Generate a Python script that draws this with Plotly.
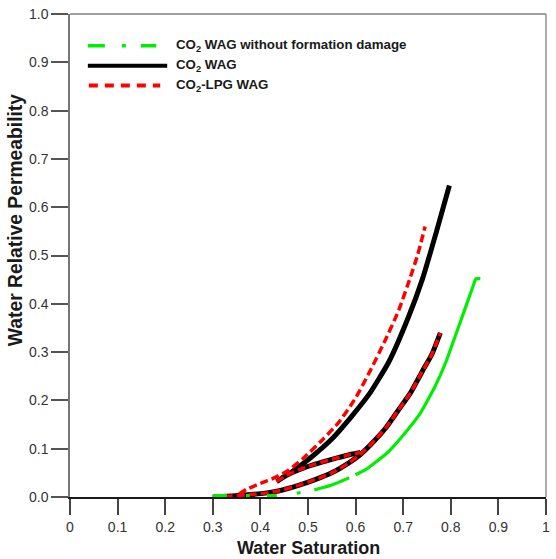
import plotly.graph_objects as go

# ---------------- data ----------------
# CO2 WAG / CO2-LPG WAG shared lower branch
sw_lower = [0.30, 0.34, 0.38, 0.41, 0.44, 0.48, 0.515, 0.55, 0.585, 0.61, 0.64, 0.665, 0.69, 0.715, 0.74, 0.76, 0.778]
kr_lower = [0.000, 0.002, 0.005, 0.008, 0.013, 0.024, 0.036, 0.050, 0.070, 0.088, 0.117, 0.145, 0.180, 0.215, 0.260, 0.295, 0.340]

# shared middle (return) branch
sw_mid = [0.434, 0.455, 0.48, 0.515, 0.55, 0.585, 0.61]
kr_mid = [0.032, 0.045, 0.056, 0.068, 0.078, 0.087, 0.092]

# CO2 WAG upper branch
sw_upper_co2 = [0.434, 0.47, 0.51, 0.55, 0.59, 0.63, 0.67, 0.71, 0.74, 0.77, 0.797]
kr_upper_co2 = [0.032, 0.055, 0.085, 0.120, 0.165, 0.215, 0.280, 0.370, 0.450, 0.550, 0.645]

# CO2-LPG WAG upper branch
sw_upper_lpg = [0.355, 0.371, 0.40, 0.43, 0.46, 0.49, 0.53, 0.565, 0.60, 0.63, 0.66, 0.69, 0.715, 0.73, 0.746]
kr_upper_lpg = [0.006, 0.016, 0.028, 0.040, 0.056, 0.080, 0.118, 0.155, 0.205, 0.260, 0.320, 0.385, 0.455, 0.500, 0.560]

# CO2 WAG without formation damage
sw_nodmg = [0.30, 0.33, 0.37, 0.43, 0.477, 0.51, 0.55, 0.58, 0.62, 0.665, 0.70, 0.735, 0.765, 0.79, 0.81, 0.83, 0.848, 0.853, 0.862]
kr_nodmg = [0.003, 0.003, 0.003, 0.003, 0.008, 0.014, 0.025, 0.037, 0.056, 0.090, 0.128, 0.172, 0.225, 0.280, 0.335, 0.390, 0.440, 0.452, 0.452]

x_ticks = [0, 0.1, 0.2, 0.3, 0.4, 0.5, 0.6, 0.7, 0.8, 0.9, 1]
x_tick_text = ["0", "0.1", "0.2", "0.3", "0.4", "0.5", "0.6", "0.7", "0.8", "0.9", "1"]
y_ticks = [0, 0.1, 0.2, 0.3, 0.4, 0.5, 0.6, 0.7, 0.8, 0.9, 1.0]
y_tick_text = ["0.0", "0.1", "0.2", "0.3", "0.4", "0.5", "0.6", "0.7", "0.8", "0.9", "1.0"]

legend_names = ["CO<sub>2</sub> WAG without formation damage", "CO<sub>2</sub> WAG", "CO<sub>2</sub>-LPG WAG"]

# ---------------- figure ----------------
W, H = 556, 559
PLOT_L, PLOT_R, PLOT_T, PLOT_B = 70, 550, 11, 497          # screen pixels
ML, MR, MT, MB = PLOT_L, W - PLOT_R, PLOT_T, H - PLOT_B
PW, PH = PLOT_R - PLOT_L, PLOT_B - PLOT_T


def px_x(p):
    return (p - PLOT_L) / PW


def px_y(p):
    return (PLOT_B - p) / PH


FONT = "Liberation Sans, Arial, sans-serif"

fig = go.Figure()

black_x = sw_lower + [None] + sw_mid[::-1] + sw_upper_co2
black_y = kr_lower + [None] + kr_mid[::-1] + kr_upper_co2
fig.add_trace(go.Scatter(x=black_x, y=black_y, mode="lines", name="CO2 WAG",
                         line=dict(color="#000000", width=5, shape="spline", smoothing=0.5),
                         showlegend=False))

red_x = sw_lower + [None] + sw_mid + [None] + sw_upper_lpg
red_y = kr_lower + [None] + kr_mid + [None] + kr_upper_lpg
fig.add_trace(go.Scatter(x=red_x, y=red_y, mode="lines", name="CO2-LPG WAG",
                         line=dict(color="#ff0000", width=3.5, dash="8px,4px", shape="spline", smoothing=0.5),
                         showlegend=False))

fig.add_trace(go.Scatter(x=sw_nodmg, y=kr_nodmg, mode="lines", name="CO2 WAG without formation damage",
                         line=dict(color="#00ee00", width=3.2,
                                   dash="14px,19px,4px,17px,10px,20px,4px,14px,37px,7px,900px",
                                   shape="spline", smoothing=0.4),
                         showlegend=False))

# custom legend (long line samples as in the reference)
rows = [43, 63, 83]
samples = [
    dict(color="#00ee00", width=3.5, dash="17px,17px,4px,15px,17px,40px", x0=88, x1=157),
    dict(color="#000000", width=4, dash="solid", x0=88, x1=168),
    dict(color="#ff0000", width=4, dash="9px,7px", x0=89, x1=161),
]
for ry, s, name in zip(rows, samples, legend_names):
    fig.add_shape(type="line", xref="paper", yref="paper",
                  x0=px_x(s["x0"]), x1=px_x(s["x1"]), y0=px_y(ry), y1=px_y(ry),
                  line=dict(color=s["color"], width=s["width"], dash=s["dash"]))
    fig.add_annotation(xref="paper", yref="paper", x=px_x(175), y=px_y(ry),
                       xanchor="left", yanchor="middle", showarrow=False,
                       text="<b>" + name + "</b>",
                       font=dict(family=FONT, size=13.3, color="#1a1a1a"))

# axis titles
fig.add_annotation(xref="paper", yref="paper", x=0.5, y=px_y(548), xanchor="center", yanchor="middle",
                   showarrow=False, text="<b>Water Saturation</b>",
                   font=dict(family=FONT, size=18, color="#1a1a1a"))
fig.add_annotation(xref="paper", yref="paper", x=px_x(15), y=px_y(218), xanchor="center", yanchor="middle",
                   showarrow=False, textangle=-90, text="<b>Water Relative Permeability</b>",
                   font=dict(family=FONT, size=19.3, color="#1a1a1a"))

# top and right frame
fig.add_shape(type="line", xref="paper", yref="paper", x0=0, x1=1, y0=1, y1=1,
              line=dict(color="#808080", width=1.3))
fig.add_shape(type="line", xref="paper", yref="paper", x0=1, x1=1, y0=0, y1=1,
              line=dict(color="#808080", width=1.3))

fig.update_layout(
    width=W, height=H,
    margin=dict(l=ML, r=MR, t=MT, b=MB, pad=0),
    paper_bgcolor="white", plot_bgcolor="white",
    showlegend=False,
    hovermode=False,
    font=dict(family=FONT, size=14, color="#333333"),
    xaxis=dict(range=[0, 1], tickvals=x_ticks, ticktext=x_tick_text,
               showgrid=False, zeroline=False,
               showline=True, linecolor="#1a1a1a", linewidth=1.5,
               ticks="outside", ticklen=16, tickwidth=1.5, tickcolor="#444444",
               ticklabeloverflow="allow",
               tickfont=dict(family=FONT, size=14, color="#333333")),
    yaxis=dict(range=[0, 1], tickvals=y_ticks, ticktext=y_tick_text,
               showgrid=False, zeroline=False,
               showline=True, linecolor="#777777", linewidth=1.5,
               ticks="outside", ticklen=17, tickwidth=1.5, tickcolor="#555555",
               ticklabeloverflow="allow",
               tickfont=dict(family=FONT, size=14, color="#333333")),
)

# remove the default 8px page margin so the figure sits at the window's corner
fig.write_html("out.html", config={"displayModeBar": False},
               post_script="document.body.style.margin='0';")
